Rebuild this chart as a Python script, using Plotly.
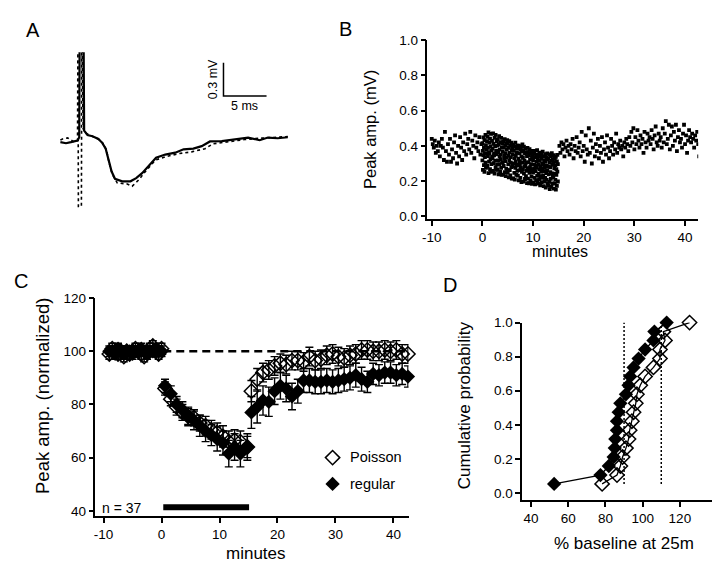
import plotly.graph_objects as go

W, H = 720, 562
FONT = "Liberation Sans, Arial, Helvetica, sans-serif"

# ---------------- Panel A: example traces (ms, mV) ----------------
a_t_solid = [-2.34, -1.69, -1.12, -0.35, -0.15, -0.1, 0.35, 0.42, 0.81, 1.38, 2.08, 2.54, 2.92, 3.23, 3.61,
             4.0, 4.84, 5.8, 6.46, 7.15, 7.92, 8.77, 9.84, 11.0, 11.96, 13.1, 14.07, 15.03, 16.4, 18.3,
             19.46, 20.8, 21.76, 22.9, 24.07]
a_v_solid = [-0.02, -0.03, -0.02, -0.005, 0.024, 1.0, 1.0, 0.083, 0.044, 0.033, 0.009, -0.029, -0.079, -0.168,
             -0.285, -0.35, -0.373, -0.373, -0.344, -0.3, -0.232, -0.161, -0.132, -0.115, -0.085, -0.079,
             -0.056, -0.014, -0.011, 0.009, 0.021, -0.003, 0.021, 0.015, 0.024]
a_t_dot = [-2.34, -2.08, -1.5, -0.73, -0.35, -0.3, -0.25, 0.1, 0.15, 0.3, 0.6, 1.2, 2.0, 2.6, 3.0, 3.3, 3.69,
           4.27, 5.42, 6.0, 6.77, 7.53, 8.68, 9.84, 11.38, 12.9, 14.45, 15.4, 16.76, 19.07, 20.8, 22.9, 24.07]
a_v_dot = [0.0, 0.009, 0.018, -0.02, -0.005, 1.0, -0.6, -0.6, 1.0, 0.1, 0.06, 0.04, 0.01, -0.03, -0.09, -0.2,
           -0.31, -0.388, -0.397, -0.417, -0.359, -0.285, -0.182, -0.153, -0.124, -0.108, -0.079, -0.035,
           -0.02, 0.003, 0.015, 0.021, 0.03]
scale_ms = 5
scale_mv = 0.3
scale_origin = (16.6, 0.395)

# ---------------- Panel B: single-experiment peak amplitudes ----------------
b_base_t = [-10.0, -9.8, -9.6, -9.4, -9.2, -9.0, -8.8, -8.6, -8.4, -8.2, -8.0, -7.8, -7.6, -7.4, -7.2, -7.0,
            -6.8, -6.6, -6.4, -6.2, -6.0, -5.8, -5.6, -5.4, -5.2, -5.0, -4.8, -4.6, -4.4, -4.2, -4.0, -3.8,
            -3.6, -3.4, -3.2, -3.0, -2.8, -2.6, -2.4, -2.2, -2.0, -1.8, -1.6, -1.4, -1.2, -1.0, -0.8, -0.6,
            -0.4, -0.2]
b_base_v = [0.44, 0.41, 0.39, 0.43, 0.36, 0.40, 0.37, 0.42, 0.34, 0.40, 0.44, 0.39, 0.32, 0.48, 0.37, 0.31,
            0.41, 0.35, 0.44, 0.31, 0.38, 0.33, 0.42, 0.46, 0.36, 0.30, 0.40, 0.34, 0.45, 0.39, 0.32, 0.42,
            0.37, 0.47, 0.35, 0.41, 0.44, 0.38, 0.48, 0.36, 0.43, 0.40, 0.33, 0.46, 0.39, 0.42, 0.37, 0.45,
            0.35, 0.41]
b_ind_t = [0.0, 0.1, 0.2, 0.3, 0.4, 0.5, 0.6, 0.7, 0.8, 0.9,
           1.0, 1.1, 1.2, 1.3, 1.4, 1.5, 1.6, 1.7, 1.8, 1.9,
           2.0, 2.1, 2.2, 2.3, 2.4, 2.5, 2.6, 2.7, 2.8, 2.9,
           3.0, 3.1, 3.2, 3.3, 3.4, 3.5, 3.6, 3.7, 3.8, 3.9,
           4.0, 4.1, 4.2, 4.3, 4.4, 4.5, 4.6, 4.7, 4.8, 4.9,
           5.0, 5.1, 5.2, 5.3, 5.4, 5.5, 5.6, 5.7, 5.8, 5.9,
           6.0, 6.1, 6.2, 6.3, 6.4, 6.5, 6.6, 6.7, 6.8, 6.9,
           7.0, 7.1, 7.2, 7.3, 7.4, 7.5, 7.6, 7.7, 7.8, 7.9,
           8.0, 8.1, 8.2, 8.3, 8.4, 8.5, 8.6, 8.7, 8.8, 8.9,
           9.0, 9.1, 9.2, 9.3, 9.4, 9.5, 9.6, 9.7, 9.8, 9.9,
           10.0, 10.1, 10.2, 10.3, 10.4, 10.5, 10.6, 10.7, 10.8, 10.9,
           11.0, 11.1, 11.2, 11.3, 11.4, 11.5, 11.6, 11.7, 11.8, 11.9,
           12.0, 12.1, 12.2, 12.3, 12.4, 12.5, 12.6, 12.7, 12.8, 12.9,
           13.0, 13.1, 13.2, 13.3, 13.4, 13.5, 13.6, 13.7, 13.8, 13.9,
           14.0, 14.1, 14.2, 14.3, 14.4, 14.5, 14.6, 14.7, 14.8, 14.9]
b_ind_hi = [0.415, 0.372, 0.448, 0.391, 0.433, 0.358, 0.462, 0.404, 0.381, 0.427,
            0.452, 0.389, 0.476, 0.364, 0.418, 0.441, 0.397, 0.468, 0.375, 0.429,
            0.384, 0.471, 0.412, 0.356, 0.445, 0.398, 0.463, 0.371, 0.427, 0.402,
            0.437, 0.362, 0.408, 0.455, 0.379, 0.421, 0.351, 0.446, 0.392, 0.414,
            0.368, 0.425, 0.391, 0.347, 0.438, 0.403, 0.359, 0.416, 0.381, 0.432,
            0.412, 0.344, 0.389, 0.427, 0.362, 0.401, 0.336, 0.418, 0.375, 0.393,
            0.351, 0.407, 0.372, 0.329, 0.396, 0.418, 0.343, 0.384, 0.361, 0.402,
            0.386, 0.327, 0.402, 0.358, 0.314, 0.379, 0.395, 0.341, 0.367, 0.408,
            0.332, 0.371, 0.395, 0.318, 0.356, 0.384, 0.307, 0.363, 0.342, 0.389,
            0.364, 0.306, 0.347, 0.381, 0.323, 0.358, 0.297, 0.372, 0.335, 0.352,
            0.318, 0.357, 0.294, 0.371, 0.336, 0.289, 0.349, 0.311, 0.376, 0.327,
            0.346, 0.293, 0.362, 0.315, 0.338, 0.284, 0.357, 0.326, 0.301, 0.368,
            0.297, 0.342, 0.318, 0.276, 0.353, 0.309, 0.335, 0.286, 0.357, 0.323,
            0.331, 0.284, 0.352, 0.307, 0.278, 0.341, 0.316, 0.359, 0.293, 0.325,
            0.305, 0.347, 0.273, 0.326, 0.291, 0.338, 0.268, 0.312, 0.349, 0.296]
b_ind_lo = [0.318, 0.264, 0.347, 0.291, 0.252, 0.336, 0.305, 0.276, 0.358, 0.283,
            0.287, 0.342, 0.246, 0.311, 0.357, 0.268, 0.324, 0.252, 0.296, 0.339,
            0.331, 0.258, 0.302, 0.347, 0.243, 0.316, 0.279, 0.352, 0.264, 0.294,
            0.266, 0.318, 0.239, 0.297, 0.341, 0.254, 0.325, 0.276, 0.235, 0.308,
            0.304, 0.237, 0.286, 0.329, 0.251, 0.313, 0.228, 0.271, 0.335, 0.262,
            0.248, 0.297, 0.221, 0.318, 0.263, 0.232, 0.305, 0.279, 0.214, 0.287,
            0.284, 0.216, 0.301, 0.247, 0.209, 0.275, 0.311, 0.236, 0.292, 0.258,
            0.231, 0.288, 0.204, 0.262, 0.297, 0.219, 0.276, 0.195, 0.253, 0.305,
            0.267, 0.197, 0.243, 0.284, 0.212, 0.291, 0.228, 0.259, 0.189, 0.274,
            0.214, 0.262, 0.188, 0.247, 0.279, 0.203, 0.268, 0.226, 0.184, 0.255,
            0.249, 0.193, 0.271, 0.218, 0.182, 0.257, 0.206, 0.276, 0.231, 0.197,
            0.186, 0.243, 0.211, 0.268, 0.176, 0.229, 0.254, 0.194, 0.272, 0.218,
            0.232, 0.172, 0.257, 0.198, 0.219, 0.164, 0.246, 0.207, 0.263, 0.185,
            0.174, 0.238, 0.196, 0.155, 0.251, 0.213, 0.168, 0.244, 0.187, 0.226,
            0.221, 0.158, 0.243, 0.186, 0.207, 0.152, 0.236, 0.173, 0.254, 0.198]
b_post_t = [15.2, 15.4, 15.6, 15.8, 16.0, 16.2, 16.4, 16.6, 16.8, 17.0,
            17.2, 17.4, 17.6, 17.8, 18.0, 18.2, 18.4, 18.6, 18.8, 19.0,
            19.2, 19.4, 19.6, 19.8, 20.0, 20.2, 20.4, 20.6, 20.8, 21.0,
            21.2, 21.4, 21.6, 21.8, 22.0, 22.2, 22.4, 22.6, 22.8, 23.0,
            23.2, 23.4, 23.6, 23.8, 24.0, 24.2, 24.4, 24.6, 24.8, 25.0,
            25.2, 25.4, 25.6, 25.8, 26.0, 26.2, 26.4, 26.6, 26.8, 27.0,
            27.2, 27.4, 27.6, 27.8, 28.0, 28.2, 28.4, 28.6, 28.8, 29.0,
            29.2, 29.4, 29.6, 29.8, 30.0, 30.2, 30.4, 30.6, 30.8, 31.0,
            31.2, 31.4, 31.6, 31.8, 32.0, 32.2, 32.4, 32.6, 32.8, 33.0,
            33.2, 33.4, 33.6, 33.8, 34.0, 34.2, 34.4, 34.6, 34.8, 35.0,
            35.2, 35.4, 35.6, 35.8, 36.0, 36.2, 36.4, 36.6, 36.8, 37.0,
            37.2, 37.4, 37.6, 37.8, 38.0, 38.2, 38.4, 38.6, 38.8, 39.0,
            39.2, 39.4, 39.6, 39.8, 40.0, 40.2, 40.4, 40.6, 40.8, 41.0,
            41.2, 41.4, 41.6, 41.8, 42.0, 42.2, 42.4, 42.6, 42.8]
b_post_v = [0.40, 0.36, 0.42, 0.38, 0.41, 0.34, 0.39, 0.43, 0.37, 0.40,
            0.35, 0.41, 0.38, 0.44, 0.33, 0.40, 0.37, 0.45, 0.36, 0.39,
            0.42, 0.34, 0.48, 0.37, 0.40, 0.31, 0.46, 0.38, 0.35, 0.50,
            0.36, 0.43, 0.30, 0.39, 0.47, 0.34, 0.41, 0.37, 0.44, 0.33,
            0.40, 0.36, 0.45, 0.31, 0.38, 0.42, 0.35, 0.46, 0.39, 0.33,
            0.37, 0.44, 0.40, 0.35, 0.42, 0.38, 0.47, 0.36, 0.41, 0.39,
            0.43, 0.38, 0.40, 0.34, 0.42, 0.39, 0.44, 0.41, 0.37, 0.45,
            0.40, 0.48, 0.42, 0.50, 0.38, 0.45, 0.41, 0.49, 0.43, 0.39,
            0.46, 0.41, 0.44, 0.36, 0.48, 0.42, 0.39, 0.47, 0.43, 0.45,
            0.41, 0.49, 0.44, 0.38, 0.46, 0.51, 0.42, 0.40, 0.47, 0.43,
            0.45, 0.39, 0.50, 0.42, 0.47, 0.54, 0.41, 0.44, 0.52, 0.38,
            0.46, 0.51, 0.40, 0.48, 0.43, 0.52, 0.37, 0.45, 0.49, 0.42,
            0.44, 0.39, 0.47, 0.52, 0.41, 0.46, 0.36, 0.43, 0.49, 0.45,
            0.42, 0.47, 0.44, 0.39, 0.46, 0.43, 0.48, 0.41, 0.34]

# ---------------- Panel C: normalized averages ----------------
c_base_t = [-9.0, -8.5, -8.0, -7.5, -7.0, -6.5, -6.0, -5.5, -5.0, -4.5, -4.0, -3.5, -3.0, -2.5, -2.0, -1.5,
            -1.0, -0.5, 0.0]
c_base_pois = [99, 101, 100, 99, 100, 98, 100, 99, 100, 101, 100, 99, 98, 100, 101, 102, 100, 99, 101]
c_base_pois_err = [2, 2, 2, 2, 2, 2, 2, 2, 2, 2, 2, 2, 2, 2, 2, 2, 2, 2, 2]
c_base_reg = [100, 100, 99, 101, 100, 99, 100, 100, 99, 100, 100, 101, 100, 99, 100, 100, 101, 100, 100]
c_base_reg_err = [2, 2, 2, 2, 2, 2, 2, 2, 2, 2, 2, 2, 2, 2, 2, 2, 2, 2, 2]
c_ind_t = [0.6, 1.6, 2.6, 3.6, 4.6, 5.6, 6.6, 7.6, 8.6, 9.6, 10.6, 11.6, 12.6, 13.6, 14.8]
c_ind_pois = [86, 82, 79, 77, 75.5, 75, 73, 72, 70.5, 69.5, 68, 66, 66.5, 66, 64]
c_ind_pois_err = [2.5, 2.5, 3, 3, 3, 3, 3, 3.5, 3.5, 3.5, 4, 4, 4, 4, 4]
c_ind_reg = [87, 84, 80, 78, 75.5, 74, 72, 70, 68.5, 67, 65.5, 61.5, 64, 61.5, 64]
c_ind_reg_err = [2.5, 3, 3, 3, 3.5, 3.5, 4, 4, 4, 4.5, 4.5, 5, 5, 5, 5]
c_post_t = [15.5, 16.5, 17.5, 18.5, 19.5, 20.5, 21.5, 22.5, 23.5, 24.5, 25.5, 26.5, 27.5, 28.5, 29.5, 30.5,
            31.5, 32.5, 33.5, 34.5, 35.5, 36.5, 37.5, 38.5, 39.5, 40.5, 41.5, 42.5]
c_post_pois = [85, 89.5, 92, 93, 94.5, 95.5, 95, 96.5, 96.5, 96, 98, 96.5, 97, 98.5, 99, 98, 97.5, 98.5, 99,
               100.5, 100.5, 100, 100, 100.5, 100, 100.5, 99, 99]
c_post_pois_err = [4, 4, 3.5, 3.5, 3.5, 3.5, 3.5, 3.5, 3.5, 3.5, 3.5, 3.5, 3.5, 3.5, 3.5, 3.5, 3.5, 3.5, 3.5,
                   3.5, 3.5, 3.5, 3.5, 3.5, 3.5, 3.5, 3.5, 3.5]
c_post_reg = [77, 79, 81.5, 81, 85, 87, 86, 83, 85, 89, 89, 88.5, 88.5, 89, 88.5, 89, 89.5, 90, 91, 89.5,
              88.5, 91.5, 91, 92, 92, 91, 91.5, 90.5]
c_post_reg_err = [6, 6, 5.5, 5.5, 5, 5, 5, 5, 4.5, 4.5, 4.5, 4.5, 4.5, 4.5, 4.5, 4.5, 4.5, 4.5, 4.5, 4.5,
                  4, 4, 4, 4, 4, 4, 4, 4]
c_baseline_level = 100
c_stim_start, c_stim_end = 0.3, 15.1
c_stim_level = 41.3
c_n_label = "n = 37"

# ---------------- Panel D: cumulative distributions at 25 min ----------------
d_prob = [0.053, 0.105, 0.158, 0.211, 0.263, 0.316, 0.368, 0.421, 0.474, 0.526, 0.579, 0.632, 0.684, 0.737,
          0.789, 0.842, 0.895, 0.947, 1.0]
d_reg = [52.4, 77.3, 81.8, 84.4, 85.0, 85.3, 86.2, 86.2, 87.1, 88.0, 91.0, 92.4, 93.3, 95.1, 97.8, 101.3,
         105.8, 106.3, 112.9]
d_pois = [78.2, 86.2, 88.0, 89.2, 91.0, 92.4, 93.0, 94.2, 95.1, 96.3, 96.9, 98.7, 101.3, 105.8, 109.3, 109.3,
          112.0, 111.1, 125.2]
d_ref_lines = [90, 110]
d_ref_span = [0.053, 1.0]

# ---------------- figure ----------------
def dx(p0, p1):
    return [p0 / W, p1 / W]


def dy(top, bottom):
    return [1 - bottom / H, 1 - top / H]


fig = go.Figure()

# Panel A
fig.add_trace(go.Scatter(x=a_t_dot, y=a_v_dot, mode="lines", xaxis="x", yaxis="y",
                         line=dict(color="black", width=1.6, dash="dot"), showlegend=False))
fig.add_trace(go.Scatter(x=a_t_solid, y=a_v_solid, mode="lines", xaxis="x", yaxis="y",
                         line=dict(color="black", width=2.2), showlegend=False))
sx, sy = scale_origin
fig.add_trace(go.Scatter(x=[sx, sx, sx + scale_ms], y=[sy + scale_mv, sy, sy], mode="lines",
                         xaxis="x", yaxis="y", line=dict(color="black", width=1.5), showlegend=False))

# Panel B
b_t = b_base_t + b_ind_t + b_ind_t + b_post_t
b_v = b_base_v + b_ind_hi + b_ind_lo + b_post_v
fig.add_trace(go.Scatter(x=b_t, y=b_v, mode="markers", xaxis="x2", yaxis="y2",
                         marker=dict(symbol="square", size=3.8, color="black", line=dict(width=0)),
                         showlegend=False))

# Panel C
c_t = c_base_t + c_ind_t + c_post_t
c_pois = c_base_pois + c_ind_pois + c_post_pois
c_pois_err = c_base_pois_err + c_ind_pois_err + c_post_pois_err
c_reg = c_base_reg + c_ind_reg + c_post_reg
c_reg_err = c_base_reg_err + c_ind_reg_err + c_post_reg_err

fig.add_trace(go.Scatter(x=[c_stim_start, c_t[-1]], y=[c_baseline_level, c_baseline_level], mode="lines",
                         xaxis="x3", yaxis="y3", line=dict(color="black", width=2.5, dash="8px,5px"),
                         showlegend=False))
fig.add_trace(go.Scatter(x=c_t, y=c_pois, mode="markers", xaxis="x3", yaxis="y3", cliponaxis=False,
                         error_y=dict(type="data", array=c_pois_err, color="black", thickness=1.4, width=4),
                         marker=dict(symbol="diamond-open", size=11, color="black", line=dict(width=1.5)),
                         showlegend=False))
fig.add_trace(go.Scatter(x=c_t, y=c_reg, mode="markers", xaxis="x3", yaxis="y3", cliponaxis=False,
                         error_y=dict(type="data", array=c_reg_err, color="black", thickness=1.4, width=4),
                         marker=dict(symbol="diamond", size=11, color="black", line=dict(width=0)),
                         showlegend=False))
fig.add_trace(go.Scatter(x=[c_stim_start, c_stim_end], y=[c_stim_level, c_stim_level], mode="lines",
                         xaxis="x3", yaxis="y3", line=dict(color="black", width=6), showlegend=False))
# legend markers
fig.add_trace(go.Scatter(x=[29.5], y=[60.0], mode="markers", xaxis="x3", yaxis="y3", cliponaxis=False,
                         marker=dict(symbol="diamond-open", size=11, color="black", line=dict(width=1.5)),
                         showlegend=False))
fig.add_trace(go.Scatter(x=[29.5], y=[50.1], mode="markers", xaxis="x3", yaxis="y3", cliponaxis=False,
                         marker=dict(symbol="diamond", size=11, color="black"), showlegend=False))

# Panel D
for xv in d_ref_lines:
    fig.add_trace(go.Scatter(x=[xv, xv], y=d_ref_span, mode="lines", xaxis="x4", yaxis="y4",
                             line=dict(color="black", width=1.5, dash="2px,2px"), showlegend=False))
fig.add_trace(go.Scatter(x=d_reg, y=d_prob, mode="lines+markers", xaxis="x4", yaxis="y4", cliponaxis=False,
                         line=dict(color="black", width=1.3),
                         marker=dict(symbol="diamond", size=11, color="black"), showlegend=False))
fig.add_trace(go.Scatter(x=d_pois, y=d_prob, mode="lines+markers", xaxis="x4", yaxis="y4", cliponaxis=False,
                         line=dict(color="black", width=1.3),
                         marker=dict(symbol="diamond-open", size=11, color="black", line=dict(width=1.5)),
                         showlegend=False))

axis_style = dict(showline=True, linecolor="black", linewidth=1.5, ticks="outside", ticklen=5,
                  tickwidth=1.5, tickcolor="black", showgrid=False, zeroline=False,
                  tickfont=dict(family=FONT, size=13.5, color="black"))

fig.update_layout(
    width=W, height=H, margin=dict(l=0, r=0, t=0, b=0),
    paper_bgcolor="white", plot_bgcolor="rgba(0,0,0,0)",
    font=dict(family=FONT, color="black"),
    xaxis=dict(domain=dx(40, 290), range=[-3.23, 25.6], visible=False, anchor="y"),
    yaxis=dict(domain=dy(38, 200), range=[-0.638, 0.79], visible=False, anchor="x"),
    xaxis2=dict(domain=dx(417.3, 690), range=[-10.86, 42.6], anchor="y2",
                tickvals=[-10, 0, 10, 20, 30, 40], ticktext=["-10", "0", "10", "20", "30", "40"], **axis_style),
    yaxis2=dict(domain=dy(25.7, 208.3), range=[-0.014, 1.0], anchor="x2",
                tickvals=[0, 0.2, 0.4, 0.6, 0.8, 1.0], tickformat=".1f", **axis_style),
    xaxis3=dict(domain=dx(83, 398.3), range=[-11.4, 42.6], anchor="y3",
                tickvals=[-10, 0, 10, 20, 30, 40], ticktext=["-10", "0", "10", "20", "30", "40"], **axis_style),
    yaxis3=dict(domain=dy(289.3, 512.3), range=[37.9, 120], anchor="x3",
                tickvals=[40, 60, 80, 100, 120], **axis_style),
    xaxis4=dict(domain=dx(512.7, 709), range=[35.2, 140], anchor="y4",
                tickvals=[40, 60, 80, 100, 120, 140], **axis_style),
    yaxis4=dict(domain=dy(314.3, 496), range=[-0.044, 1.0], anchor="x4",
                tickvals=[0, 0.2, 0.4, 0.6, 0.8, 1.0], tickformat=".1f", **axis_style),
)


def pa(text, x, y, size, angle=0, xanchor="center", yanchor="middle"):
    fig.add_annotation(text=text, x=x / W, y=1 - y / H, xref="paper", yref="paper", showarrow=False,
                       textangle=angle, xanchor=xanchor, yanchor=yanchor,
                       font=dict(family=FONT, size=size, color="black"))


# panel letters
pa("A", 20, 15, 20)
pa("B", 335, 14, 20)
pa("C", 8, 272, 20)
pa("D", 440, 276, 20)
# scale bar labels
pa("0.3 mV", 201, 66, 12.5, angle=-90)
pa("5 ms", 233, 93, 12.5)
# B titles
pa("Peak amp. (mV)", 359, 117, 16.5, angle=-90)
pa("minutes", 551, 242, 16)
# C titles
pa("Peak amp. (normalized)", 29.5, 389, 18.5, angle=-90)
pa("minutes", 245, 550, 17)
pa(c_n_label, 88, 504, 14, xanchor="left")
pa("Poisson", 337, 452, 14.5, xanchor="left")
pa("regular", 337, 479, 14.5, xanchor="left")
# D titles
pa("Cumulative probability", 455, 399, 17, angle=-90)
pa("% baseline at 25m", 615, 540, 17)

fig.write_html("out.html")
